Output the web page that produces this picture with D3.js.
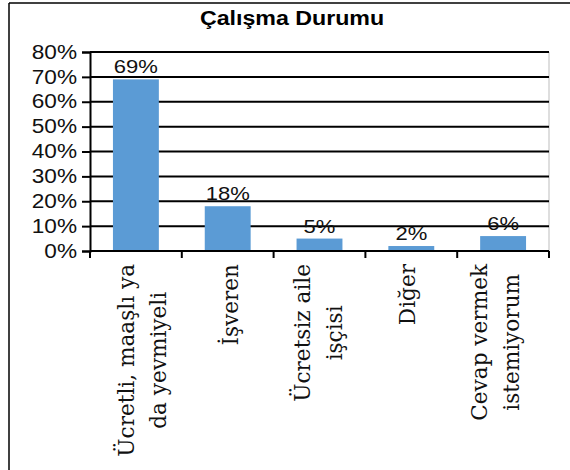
<!DOCTYPE html>
<html><head><meta charset="utf-8">
<script src="https://cdn.jsdelivr.net/npm/d3@7"></script>
<style>body{margin:0;background:#fff} svg{display:block}</style>
</head><body>
<svg id="c" width="570" height="470"></svg>
<script>
const chartTitle = "Çalışma Durumu";
const categories = ["Ücretli, maaşlı ya\nda yevmiyeli", "İşveren", "Ücretsiz aile\nişçisi", "Diğer", "Cevap vermek\nistemiyorum"];
const values = [0.69, 0.18, 0.05, 0.02, 0.06];
const valueLabels = ["69%", "18%", "5%", "2%", "6%"];
const yTicks = [0, 0.1, 0.2, 0.3, 0.4, 0.5, 0.6, 0.7, 0.8];

const svg = d3.select("#c");
const pLeft = 90, pRight = 549, pTop = 52, pBottom = 251;
const sx = 1.16; // horizontal text stretch

// outer frame
svg.append("line").attr("x1", 9).attr("x2", 9).attr("y1", 3).attr("y2", 470).attr("stroke", "#000").attr("stroke-width", 1.5);
svg.append("line").attr("x1", 9).attr("x2", 570).attr("y1", 3).attr("y2", 3).attr("stroke", "#000").attr("stroke-width", 1.5);

const x = d3.scaleBand().domain(categories).range([pLeft, pRight]).paddingInner(0.5).paddingOuter(0.25);
const y = d3.scaleLinear().domain([0, 0.8]).range([pBottom, pTop]);

// title
svg.append("text").attr("transform", `translate(292,25) scale(${sx},1)`)
  .attr("text-anchor", "middle").attr("font-family", "Liberation Sans, Arial, sans-serif")
  .attr("font-weight", "bold").attr("font-size", 20).attr("fill", "#000").text(chartTitle);

// plot right border
svg.append("line").attr("x1", pRight).attr("x2", pRight).attr("y1", pTop).attr("y2", pBottom).attr("stroke", "#bdbdbd").attr("stroke-width", 1);

// gridlines
svg.append("g").selectAll("line").data(yTicks).join("line")
  .attr("x1", pLeft).attr("x2", pRight).attr("y1", d => y(d)).attr("y2", d => y(d))
  .attr("stroke", "#000").attr("stroke-width", 2);

// bars
svg.append("g").selectAll("rect").data(values).join("rect")
  .attr("x", (d, i) => x(categories[i])).attr("width", x.bandwidth())
  .attr("y", d => y(d)).attr("height", d => y(0) - y(d))
  .attr("fill", "#5b9bd5");

// value labels
svg.append("g").selectAll("text").data(values).join("text")
  .attr("transform", (d, i) => `translate(${x(categories[i]) + x.bandwidth() / 2},${y(d) - 6}) scale(${sx},1)`)
  .attr("text-anchor", "middle").attr("font-family", "Liberation Sans, Arial, sans-serif")
  .attr("font-size", 19).attr("fill", "#111").text((d, i) => valueLabels[i]);

// y axis
const yAxis = svg.append("g").attr("transform", `translate(${pLeft},0)`)
  .call(d3.axisLeft(y).tickValues(yTicks).tickFormat(d3.format(".0%")).tickSize(8).tickPadding(5));
yAxis.select(".domain").attr("stroke", "#000").attr("stroke-width", 2);
yAxis.selectAll(".tick line").attr("stroke", "#000").attr("stroke-width", 2);
yAxis.selectAll(".tick text").attr("font-family", "Liberation Sans, Arial, sans-serif").attr("font-size", 19.5)
  .attr("fill", "#111").attr("x", -13 / sx).attr("transform", `scale(${sx},1)`);

// x axis ticks at band boundaries
const step = x.step();
const boundaries = [pLeft].concat(categories.map(c => x(c) - x.paddingInner() * step / 2 + step));
svg.append("line").attr("x1", pLeft).attr("x2", pRight).attr("y1", pBottom).attr("y2", pBottom).attr("stroke", "#000").attr("stroke-width", 2);
svg.append("g").selectAll("line").data(boundaries).join("line")
  .attr("x1", d => d).attr("x2", d => d).attr("y1", pBottom).attr("y2", pBottom + 7)
  .attr("stroke", "#000").attr("stroke-width", 2);

// category labels (rotated, centered lines)
const lh = 32, topEnd = 264;
categories.forEach((c, i) => {
  const lines = c.split("\n");
  const cx = x(c) + x.bandwidth() / 2 + 14 - 3.6 * i;
  const g = svg.append("g");
  const texts = lines.map((ln, j) => g.append("text")
    .attr("font-family", "DejaVu Serif, serif").attr("font-size", 21.6).attr("fill", "#111")
    .attr("text-anchor", "middle").text(ln));
  const maxW = d3.max(texts, t => t.node().getComputedTextLength());
  texts.forEach((t, j) => {
    const off = (j - (lines.length - 1) / 2) * lh;
    t.attr("transform", `translate(${cx + off},${topEnd + maxW / 2}) rotate(-90)`);
  });
});
</script>
</body></html>
